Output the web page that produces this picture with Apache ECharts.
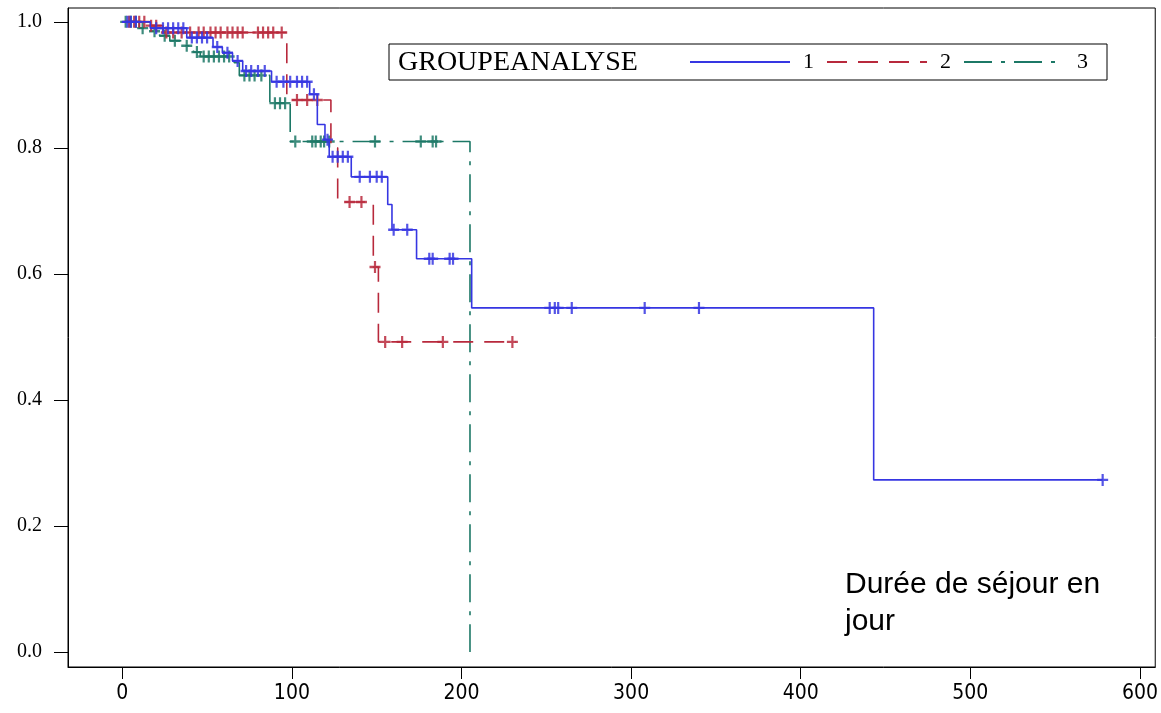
<!DOCTYPE html>
<html>
<head>
<meta charset="utf-8">
<script src="https://cdn.jsdelivr.net/npm/echarts@6/dist/echarts.min.js"></script>
<style>
html,body{margin:0;padding:0;background:#fff}
#main{width:1161px;height:713px}
</style>
</head>
<body>
<div id="main"></div>
<script>
// courbes de survie (Kaplan-Meier) lues sur le graphique
// groupe 1
var g1Time = [0, 16.5, 38, 53.5, 59, 65, 71, 88, 110.5, 115, 119.5, 122, 135, 156.5, 159, 173.5, 206, 443, 578];
var g1Surv = [1.0, 0.990, 0.975, 0.960, 0.951, 0.938, 0.922, 0.905, 0.885, 0.837, 0.813, 0.786, 0.754, 0.710, 0.670, 0.624, 0.546, 0.273, 0.273];
var g1Cens = [3, 5, 8, 20, 24, 27, 30, 33, 36, 41, 44, 47, 50, 56, 62, 68, 73, 76, 80, 84, 91, 95, 99, 103, 106, 109, 113,
	121, 124, 127, 130, 133, 140, 146, 150, 153, 160, 168, 181, 183, 193, 195, 252, 255, 257, 265, 308, 340, 578];

// groupe 2
var g2Time = [0, 14, 24, 97, 123, 127, 148, 151, 232];
var g2Surv = [1.0, 0.994, 0.983, 0.876, 0.80, 0.714, 0.611, 0.492, 0.492];
var g2Cens = [4, 7, 10, 13, 17, 20, 26, 30, 35, 40, 45, 48, 52, 55, 58, 62, 65, 68, 71, 80, 83, 86, 89, 94,
	103, 109, 115, 134, 141, 149, 155, 165, 189, 230];

// groupe 3
var g3Time = [0, 10, 16, 22, 28, 36, 42, 46, 66, 69, 87, 99, 205];
var g3Surv = [1.0, 0.99, 0.985, 0.978, 0.97, 0.962, 0.952, 0.945, 0.935, 0.915, 0.871, 0.81, 0.0];
var g3Cens = [2, 5, 8, 12, 19, 25, 31, 38, 44, 48, 51, 54, 57, 60, 63, 72, 75, 78, 82, 90, 93, 96,
	102, 112, 114, 117, 119, 122, 149, 176, 183, 185];

var xTicks = [0, 100, 200, 300, 400, 500, 600];
var yTicks = [0, 0.2, 0.4, 0.6, 0.8, 1.0];

var colors = ['#3636e2', '#b8293c', '#1c7866'];
var plusIcon = 'path://M4,0H6V4H10V6H6V10H4V6H0V4H4Z';

function survAt(times, surv, t) {
	var v = surv[0];
	for (var i = 0; i < times.length; i++) {
		if (times[i] <= t) v = surv[i];
	}
	return v;
}
function steps(times, surv) {
	return times.map(function(t, i) { return [t, surv[i]]; });
}
function censors(times, surv, c) {
	return c.map(function(t) { return [t, survAt(times, surv, t)]; });
}

function lineSerie(name, times, surv, color, type, z) {
	return {
		name: name, type: 'line', step: 'end', symbol: 'none', z: z,
		data: steps(times, surv),
		lineStyle: { color: color, width: 1.6, type: type },
		itemStyle: { color: color },
		animation: false
	};
}
function censSerie(name, times, surv, c, color, z) {
	return {
		name: name, type: 'scatter', symbol: plusIcon, symbolSize: [11, 12], z: z,
		data: censors(times, surv, c),
		itemStyle: { color: color, opacity: 0.85 },
		animation: false
	};
}

var chart = echarts.init(document.getElementById('main'));
chart.setOption({
	backgroundColor: '#fff',
	animation: false,
	grid: { left: 68, right: 4, top: 8, bottom: 46, show: true, borderColor: '#000', borderWidth: 1 },
	xAxis: {
		type: 'value', min: -32, max: 609,
		splitLine: { show: false },
		axisLine: { show: true, onZero: false, lineStyle: { color: '#000', width: 1 } },
		axisTick: { show: true, length: 12, customValues: xTicks, lineStyle: { color: '#000' } },
		axisLabel: {
			customValues: xTicks, margin: 16, color: '#000', fontSize: 21,
			fontFamily: 'Liberation Sans Narrow, DejaVu Sans Condensed, sans-serif'
		}
	},
	yAxis: {
		type: 'value', min: -0.024, max: 1.022,
		splitLine: { show: false },
		axisLine: { show: true, onZero: false, lineStyle: { color: '#000', width: 1 } },
		axisTick: { show: true, length: 14, customValues: yTicks, lineStyle: { color: '#000' } },
		axisLabel: {
			customValues: yTicks, margin: 26, color: '#000', fontSize: 20,
			fontFamily: 'Liberation Serif, serif',
			formatter: function(v) { return v.toFixed(1); }
		}
	},
	legend: {
		data: ['1', '2', '3'],
		left: 389, top: 44,
		orient: 'horizontal',
		itemWidth: 100, itemHeight: 14, itemGap: 12,
		padding: [6, 19, 6, 300],
		borderColor: '#000', borderWidth: 1,
		itemStyle: { color: 'transparent', borderWidth: 0, opacity: 0 },
		textStyle: { fontFamily: 'Liberation Serif, serif', fontSize: 22, lineHeight: 24, color: '#000', padding: [0, 0, 0, 8] }
	},
	graphic: [
		{
			type: 'text', left: 398, top: 49, z: 100,
			style: { text: 'GROUPEANALYSE', font: '28px "Liberation Serif", serif', fill: '#000' }
		},
		{
			type: 'text', left: 845, top: 566, z: 100,
			style: { text: 'Durée de séjour en\njour', font: '30px "Liberation Sans", Arial, sans-serif', lineHeight: 37, fill: '#000' }
		}
	],
	series: [
		lineSerie('1', g1Time, g1Surv, colors[0], 'solid', 4),
		lineSerie('2', g2Time, g2Surv, colors[1], [20, 11], 3),
		lineSerie('3', g3Time, g3Surv, colors[2], [28, 9, 4, 9], 2),
		censSerie('c1', g1Time, g1Surv, g1Cens, colors[0], 4),
		censSerie('c2', g2Time, g2Surv, g2Cens, colors[1], 3),
		censSerie('c3', g3Time, g3Surv, g3Cens, colors[2], 2)
	]
});
</script>
</body>
</html>
